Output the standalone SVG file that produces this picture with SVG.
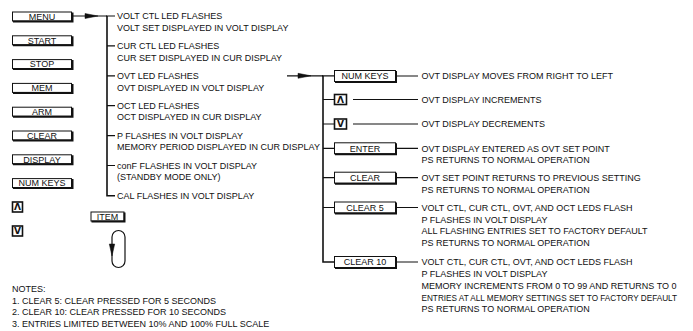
<svg xmlns="http://www.w3.org/2000/svg" width="693" height="331" viewBox="0 0 693 331">
<style>
text{font-family:"Liberation Sans",Arial,sans-serif;font-size:9px;fill:#111}
.c{text-anchor:middle}
.b{font-family:"DejaVu Sans","Liberation Sans",sans-serif;font-weight:bold;font-size:9px}
.box{fill:#fff;stroke:#111;stroke-width:1}
.sq{fill:#fff;stroke:#111;stroke-width:1.6}
.sh{fill:none;stroke:#111;stroke-width:2}
.ln{fill:none;stroke:#111;stroke-width:1.2}
.tr{fill:none;stroke:#111;stroke-width:1.6}
.ah{fill:#111;stroke:#111;stroke-width:0.5}
</style>

<!-- left keys -->
<g id="k-menu"><rect class="box" x="12.5" y="12" width="59" height="9"/><path class="sh" d="M13,21.5 H72.5 V12.5"/><text class="c" x="42" y="19.7">MENU</text></g>
<g id="k-start"><rect class="box" x="12.5" y="35.8" width="59" height="9"/><path class="sh" d="M13,45.3 H72.5 V36.3"/><text class="c" x="42" y="43.5">START</text></g>
<g id="k-stop"><rect class="box" x="12.5" y="59.6" width="59" height="9"/><path class="sh" d="M13,69.1 H72.5 V60.1"/><text class="c" x="42" y="67.3">STOP</text></g>
<g id="k-mem"><rect class="box" x="12.5" y="83.4" width="59" height="9"/><path class="sh" d="M13,92.9 H72.5 V83.9"/><text class="c" x="42" y="91.1">MEM</text></g>
<g id="k-arm"><rect class="box" x="12.5" y="107.2" width="59" height="9"/><path class="sh" d="M13,116.7 H72.5 V107.7"/><text class="c" x="42" y="114.9">ARM</text></g>
<g id="k-clear"><rect class="box" x="12.5" y="131" width="59" height="9"/><path class="sh" d="M13,140.5 H72.5 V131.5"/><text class="c" x="42" y="138.7">CLEAR</text></g>
<g id="k-display"><rect class="box" x="12.5" y="154.8" width="59" height="9"/><path class="sh" d="M13,164.3 H72.5 V155.3"/><text class="c" x="42" y="162.5">DISPLAY</text></g>
<g id="k-numkeys"><rect class="box" x="12.5" y="178.6" width="59" height="9"/><path class="sh" d="M13,188.1 H72.5 V179.1"/><text class="c" x="42" y="186.3">NUM KEYS</text></g>
<g id="k-up"><rect class="sq" x="12.5" y="202" width="10" height="10"/><text class="c b" x="17.5" y="210.4">Λ</text></g>
<g id="k-down"><rect class="sq" x="12.5" y="226" width="10" height="10"/><text class="c b" x="17.5" y="234.4">V</text></g>

<g id="k-item"><rect class="box" x="91" y="212" width="33" height="9"/><path class="sh" d="M91.5,221.5 H124.5 V212.5"/><text class="c" x="107.5" y="219.7">ITEM</text></g>
<g id="item-loop"><path class="ln" d="M112,237 A6.5,6.5 0 0 1 125,237 V261 A6.5,6.5 0 0 1 112,261 V237 Z"/><polygon class="ah" points="109.3,244 114.7,244 112,256"/></g>

<!-- menu texts -->
<g id="menu-items">
<text x="117" y="19.2">VOLT CTL LED FLASHES</text>
<text x="117" y="30.7">VOLT SET DISPLAYED IN VOLT DISPLAY</text>
<text x="117" y="49">CUR CTL LED FLASHES</text>
<text x="117" y="60.5">CUR SET DISPLAYED IN CUR DISPLAY</text>
<text x="117" y="79">OVT LED FLASHES</text>
<text x="117" y="90.5">OVT DISPLAYED IN VOLT DISPLAY</text>
<text x="117" y="108.9">OCT LED FLASHES</text>
<text x="117" y="120.4">OCT DISPLAYED IN CUR DISPLAY</text>
<text x="117" y="138.8">P FLASHES IN VOLT DISPLAY</text>
<text x="117" y="150.3">MEMORY PERIOD DISPLAYED IN CUR DISPLAY</text>
<text x="117" y="168.7">conF FLASHES IN VOLT DISPLAY</text>
<text x="117" y="180.2">(STANDBY MODE ONLY)</text>
<text x="117" y="198.6">CAL FLASHES IN VOLT DISPLAY</text>
</g>

<!-- right keys -->
<g id="r-numkeys"><rect class="box" x="334.5" y="70.5" width="61" height="11"/><path class="sh" d="M335,82 H396 V71"/><text class="c" x="365" y="79.2">NUM KEYS</text></g>
<g id="r-up"><rect class="sq" x="334.5" y="94.5" width="12" height="10"/><text class="c b" x="340.5" y="102.9">Λ</text></g>
<g id="r-down"><rect class="sq" x="334.5" y="119" width="12" height="10"/><text class="c b" x="340.5" y="127.4">V</text></g>
<g id="r-enter"><rect class="box" x="334.5" y="142.8" width="61" height="11"/><path class="sh" d="M335,154.3 H396 V143.3"/><text class="c" x="365" y="151.5">ENTER</text></g>
<g id="r-clear"><rect class="box" x="334.5" y="172.2" width="61" height="11"/><path class="sh" d="M335,183.7 H396 V172.7"/><text class="c" x="365" y="180.9">CLEAR</text></g>
<g id="r-clear5"><rect class="box" x="334.5" y="202" width="61" height="11"/><path class="sh" d="M335,213.5 H396 V202.5"/><text class="c" x="365" y="210.7">CLEAR 5</text></g>
<g id="r-clear10"><rect class="box" x="334.5" y="256.5" width="61" height="11"/><path class="sh" d="M335,268 H396 V257"/><text class="c" x="365" y="265.2">CLEAR 10</text></g>

<!-- right texts -->
<g id="ovt-items">
<text x="421.5" y="79.2">OVT DISPLAY MOVES FROM RIGHT TO LEFT</text>
<text x="421.5" y="102.6">OVT DISPLAY INCREMENTS</text>
<text x="421.5" y="127.2">OVT DISPLAY DECREMENTS</text>
<text x="421.5" y="151.5">OVT DISPLAY ENTERED AS OVT SET POINT</text>
<text x="421.5" y="163.3">PS RETURNS TO NORMAL OPERATION</text>
<text x="421.5" y="180.9">OVT SET POINT RETURNS TO PREVIOUS SETTING</text>
<text x="421.5" y="192.9">PS RETURNS TO NORMAL OPERATION</text>
<text x="421.5" y="210.7">VOLT CTL, CUR CTL, OVT, AND OCT LEDS FLASH</text>
<text x="421.5" y="222.5">P FLASHES IN VOLT DISPLAY</text>
<text x="421.5" y="234.3">ALL FLASHING ENTRIES SET TO FACTORY DEFAULT</text>
<text x="421.5" y="246.1">PS RETURNS TO NORMAL OPERATION</text>
<text x="421.5" y="265.2">VOLT CTL, CUR CTL, OVT, AND OCT LEDS FLASH</text>
<text x="421.5" y="277">P FLASHES IN VOLT DISPLAY</text>
<text x="421.5" y="288.8">MEMORY INCREMENTS FROM 0 TO 99 AND RETURNS TO 0</text>
<text x="421.5" y="300.6" style="font-size:8.2px">ENTRIES AT ALL MEMORY SETTINGS SET TO FACTORY DEFAULT</text>
<text x="421.5" y="312.4">PS RETURNS TO NORMAL OPERATION</text>
</g>

<!-- notes -->
<g id="notes">
<text x="12" y="291.5">NOTES:</text>
<text x="12" y="303.5">1. CLEAR 5: CLEAR PRESSED FOR 5 SECONDS</text>
<text x="12" y="315.3">2. CLEAR 10: CLEAR PRESSED FOR 10 SECONDS</text>
<text x="12" y="326.7">3. ENTRIES LIMITED BETWEEN 10% AND 100% FULL SCALE</text>
</g>

<!-- connectors -->
<g id="connectors">
<path class="ln" d="M73,16 H107"/>
<polygon class="ah" points="85,13.5 98,16 85,18.5"/>
<path class="tr" d="M107,16 V195.8 H115"/>
<path class="ln" d="M106,16 H115 M107,45.9 H115 M107,75.8 H115 M107,105.7 H115 M107,135.6 H115 M107,165.5 H115"/>
<path class="ln" d="M287,75.8 H323"/>
<polygon class="ah" points="298,73.3 311,75.8 298,78.3"/>
<path class="tr" d="M323,75.8 V262 H334"/>
<path class="ln" d="M322,75.8 H334 M323,99.5 H334 M323,124 H334 M323,148.3 H334 M323,177.7 H334 M323,207.5 H334"/>
<path class="ln" d="M397,76 H418 M353,99.5 H418 M353,124 H418 M397,148.3 H418 M397,177.7 H418 M397,207.5 H418 M397,262 H418"/>
</g>
</svg>
